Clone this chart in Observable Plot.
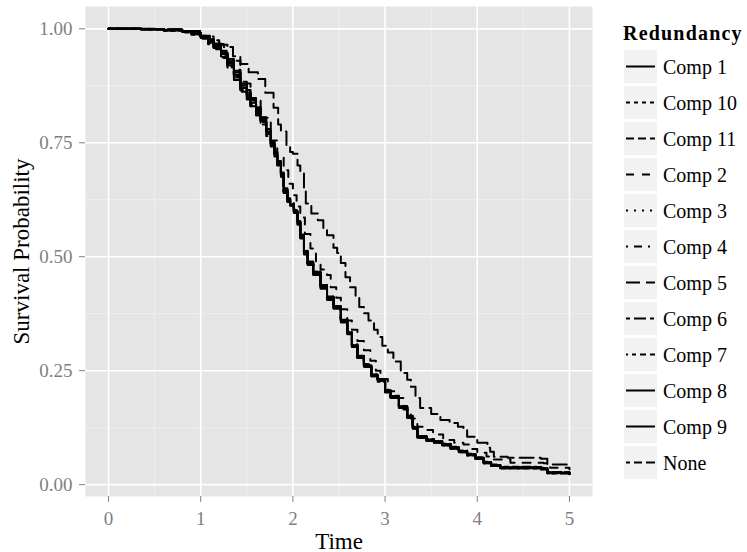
<!DOCTYPE html>
<html><head><meta charset="utf-8">
<script src="https://cdn.jsdelivr.net/npm/d3@7"></script>
<script src="https://cdn.jsdelivr.net/npm/@observablehq/plot@0.6"></script>
<style>
body{margin:0;background:#fff;}
#wrap{position:relative;width:747px;height:552px;font-family:"Liberation Serif",serif;overflow:hidden;}
#chart{position:absolute;left:0;top:0;}
#legend{position:absolute;left:0;top:0;}
.ltitle{position:absolute;left:623px;top:22px;font-weight:bold;font-size:20px;letter-spacing:1.2px;color:#000;line-height:22px;white-space:nowrap;}
.lrow{position:absolute;left:624px;height:33px;}
.lrow svg{position:absolute;left:0;top:0;}
.lrow span{position:absolute;left:39px;top:6px;font-size:20px;line-height:22px;white-space:nowrap;color:#000;}
</style></head>
<body><div id="wrap"><div id="chart"></div><div id="legend"></div></div>
<script>
// ---- data ----
const seriesNames = ["Comp 1","Comp 10","Comp 11","Comp 2","Comp 3","Comp 4","Comp 5","Comp 6","Comp 7","Comp 8","Comp 9","None"];
const dashPatterns = ["", "2 2", "4 2", "4 4", "1 3", "1 3 4 3", "7 3", "2 2 6 2", "1 2 2 2 3 2 4 2", "15 2 8 2", "15 4 4 4 8 4 4 4", "2 2 4 2 8 2 15 2"];
const xMajor = [0, 1, 2, 3, 4, 5];
const xMinor = [0.5, 1.5, 2.5, 3.5, 4.5];
const yMajor = [0, 0.25, 0.5, 0.75, 1];
const yMinor = [0.125, 0.375, 0.625, 0.875];

// shared time grid for the tightly grouped curves
const timeCluster = [0, 0.35, 0.6, 0.8, 0.9, 1.0, 1.08, 1.14, 1.22, 1.29,
  1.36, 1.43, 1.5, 1.54, 1.6, 1.65, 1.71, 1.76, 1.8, 1.83,
  1.87, 1.9, 1.94, 1.97, 2.01, 2.05, 2.08, 2.12, 2.16, 2.22,
  2.3, 2.37, 2.44, 2.52, 2.59, 2.64, 2.7, 2.77, 2.85, 2.92,
  3.0, 3.06, 3.15, 3.24, 3.3, 3.35, 3.45, 3.53, 3.62, 3.71,
  3.8, 3.89, 3.98, 4.07, 4.15, 4.25, 4.69, 4.76, 5.0];

const survComp1 = [1.0, 0.999, 0.997, 0.994, 0.99, 0.982, 0.972, 0.963, 0.945, 0.925,
  0.9, 0.872, 0.855, 0.838, 0.82, 0.8, 0.775, 0.748, 0.728, 0.706,
  0.68, 0.645, 0.625, 0.615, 0.6, 0.575, 0.545, 0.51, 0.486, 0.465,
  0.435, 0.41, 0.39, 0.36, 0.333, 0.305, 0.28, 0.262, 0.24, 0.23,
  0.205, 0.193, 0.17, 0.149, 0.125, 0.105, 0.098, 0.094, 0.088, 0.081,
  0.073, 0.066, 0.058, 0.048, 0.042, 0.037, 0.035, 0.026, 0.024];
const survComp8 = [1.0, 0.999, 0.997, 0.993, 0.988, 0.98, 0.97, 0.958, 0.938, 0.915,
  0.888, 0.862, 0.845, 0.83, 0.81, 0.79, 0.765, 0.742, 0.72, 0.7,
  0.672, 0.64, 0.622, 0.612, 0.598, 0.572, 0.54, 0.505, 0.482, 0.46,
  0.43, 0.405, 0.386, 0.356, 0.33, 0.302, 0.278, 0.258, 0.238, 0.226,
  0.202, 0.19, 0.168, 0.147, 0.123, 0.103, 0.096, 0.092, 0.086, 0.079,
  0.071, 0.064, 0.056, 0.047, 0.041, 0.036, 0.034, 0.025, 0.023];
const survComp9 = [1.0, 0.999, 0.998, 0.995, 0.991, 0.984, 0.976, 0.967, 0.952, 0.934,
  0.91, 0.884, 0.866, 0.848, 0.828, 0.806, 0.78, 0.752, 0.73, 0.708,
  0.682, 0.648, 0.628, 0.617, 0.602, 0.578, 0.548, 0.512, 0.489, 0.468,
  0.438, 0.413, 0.392, 0.362, 0.336, 0.308, 0.283, 0.264, 0.242, 0.232,
  0.207, 0.195, 0.172, 0.151, 0.127, 0.107, 0.1, 0.095, 0.089, 0.082,
  0.074, 0.067, 0.059, 0.049, 0.043, 0.038, 0.036, 0.027, 0.025];
const survComp10 = [1.0, 0.999, 0.996, 0.992, 0.987, 0.978, 0.966, 0.955, 0.936, 0.918,
  0.895, 0.87, 0.85, 0.83, 0.812, 0.795, 0.77, 0.744, 0.725, 0.703,
  0.676, 0.642, 0.62, 0.612, 0.596, 0.57, 0.542, 0.508, 0.484, 0.462,
  0.432, 0.408, 0.388, 0.358, 0.331, 0.303, 0.279, 0.26, 0.239, 0.228,
  0.204, 0.191, 0.169, 0.148, 0.124, 0.104, 0.097, 0.093, 0.087, 0.08,
  0.072, 0.065, 0.057, 0.048, 0.042, 0.037, 0.035, 0.026, 0.024];
const survComp11 = [1.0, 0.999, 0.998, 0.995, 0.992, 0.985, 0.977, 0.968, 0.95, 0.93,
  0.905, 0.878, 0.86, 0.843, 0.824, 0.802, 0.778, 0.75, 0.73, 0.71,
  0.685, 0.65, 0.628, 0.618, 0.603, 0.578, 0.548, 0.513, 0.489, 0.467,
  0.437, 0.411, 0.391, 0.361, 0.334, 0.306, 0.281, 0.263, 0.241, 0.231,
  0.206, 0.194, 0.171, 0.15, 0.126, 0.106, 0.099, 0.095, 0.089, 0.082,
  0.074, 0.067, 0.059, 0.049, 0.043, 0.038, 0.036, 0.027, 0.025];
const survComp3 = [1.0, 0.999, 0.997, 0.994, 0.989, 0.981, 0.97, 0.96, 0.942, 0.92,
  0.896, 0.868, 0.85, 0.835, 0.815, 0.797, 0.772, 0.745, 0.726, 0.704,
  0.678, 0.643, 0.624, 0.614, 0.599, 0.574, 0.544, 0.509, 0.485, 0.464,
  0.434, 0.409, 0.389, 0.359, 0.332, 0.304, 0.279, 0.261, 0.239, 0.229,
  0.204, 0.192, 0.169, 0.148, 0.124, 0.104, 0.097, 0.093, 0.087, 0.08,
  0.072, 0.065, 0.057, 0.047, 0.041, 0.036, 0.034, 0.025, 0.023];
const survComp4 = [1.0, 0.999, 0.997, 0.994, 0.99, 0.983, 0.974, 0.965, 0.948, 0.928,
  0.903, 0.876, 0.858, 0.84, 0.822, 0.803, 0.776, 0.75, 0.729, 0.707,
  0.681, 0.646, 0.626, 0.616, 0.601, 0.576, 0.546, 0.511, 0.487, 0.466,
  0.436, 0.411, 0.391, 0.361, 0.334, 0.306, 0.281, 0.263, 0.241, 0.231,
  0.206, 0.194, 0.171, 0.15, 0.126, 0.106, 0.099, 0.095, 0.089, 0.082,
  0.074, 0.067, 0.059, 0.049, 0.043, 0.038, 0.036, 0.027, 0.025];
const survComp6 = [1.0, 0.999, 0.997, 0.993, 0.989, 0.98, 0.969, 0.96, 0.94, 0.92,
  0.893, 0.865, 0.848, 0.832, 0.815, 0.796, 0.77, 0.744, 0.724, 0.702,
  0.676, 0.641, 0.622, 0.613, 0.598, 0.573, 0.543, 0.508, 0.484, 0.463,
  0.433, 0.408, 0.388, 0.358, 0.331, 0.303, 0.278, 0.26, 0.238, 0.228,
  0.203, 0.191, 0.168, 0.147, 0.123, 0.103, 0.096, 0.092, 0.086, 0.079,
  0.071, 0.064, 0.056, 0.047, 0.041, 0.036, 0.034, 0.025, 0.023];
const survComp7 = [1.0, 0.999, 0.998, 0.995, 0.991, 0.984, 0.975, 0.966, 0.95, 0.932,
  0.908, 0.88, 0.862, 0.845, 0.826, 0.805, 0.78, 0.752, 0.731, 0.709,
  0.683, 0.647, 0.627, 0.617, 0.602, 0.577, 0.547, 0.512, 0.488, 0.467,
  0.437, 0.412, 0.392, 0.362, 0.335, 0.307, 0.282, 0.264, 0.242, 0.232,
  0.207, 0.195, 0.172, 0.151, 0.127, 0.107, 0.1, 0.096, 0.09, 0.083,
  0.075, 0.068, 0.06, 0.05, 0.044, 0.039, 0.037, 0.028, 0.026];
const survNone = [1.0, 0.999, 0.997, 0.994, 0.99, 0.982, 0.971, 0.962, 0.944, 0.924,
  0.898, 0.87, 0.853, 0.836, 0.818, 0.798, 0.773, 0.747, 0.727, 0.705,
  0.679, 0.644, 0.624, 0.614, 0.599, 0.574, 0.544, 0.509, 0.485, 0.464,
  0.434, 0.409, 0.389, 0.359, 0.332, 0.304, 0.279, 0.261, 0.239, 0.229,
  0.204, 0.192, 0.169, 0.148, 0.124, 0.104, 0.097, 0.093, 0.087, 0.08,
  0.072, 0.065, 0.057, 0.047, 0.041, 0.036, 0.034, 0.025, 0.023];

// the two curves that separate from the group
const timeComp5 = [0, 0.5, 0.8, 1.0, 1.1, 1.2, 1.25, 1.35, 1.43, 1.52,
  1.62, 1.7, 1.79, 1.84, 1.87, 1.93, 1.97, 2.0, 2.05, 2.08,
  2.12, 2.14, 2.2, 2.27, 2.33, 2.37, 2.44, 2.48, 2.52, 2.57,
  2.62, 2.68, 2.72, 2.77, 2.82, 2.88, 2.92, 2.97, 3.03, 3.09,
  3.17, 3.24, 3.28, 3.33, 3.38, 3.5, 3.6, 3.7, 3.79, 3.85,
  3.89, 4.0, 4.11, 4.14, 4.18, 4.33, 4.69, 4.76, 5.0];
const survComp5 = [1.0, 0.999, 0.995, 0.985, 0.975, 0.967, 0.96, 0.94, 0.923, 0.905,
  0.89, 0.86, 0.827, 0.79, 0.775, 0.74, 0.73, 0.726, 0.70, 0.683,
  0.65, 0.617, 0.595, 0.58, 0.56, 0.547, 0.52, 0.508, 0.486, 0.455,
  0.433, 0.41, 0.39, 0.376, 0.36, 0.34, 0.324, 0.305, 0.29, 0.27,
  0.245, 0.23, 0.215, 0.19, 0.168, 0.155, 0.142, 0.135, 0.127, 0.12,
  0.105, 0.092, 0.081, 0.072, 0.061, 0.059, 0.057, 0.044, 0.04];
const timeComp2 = [0, 0.5, 0.8, 1.0, 1.14, 1.29, 1.43, 1.54, 1.65, 1.76,
  1.83, 1.9, 1.95, 2.0, 2.04, 2.08, 2.13, 2.19, 2.25, 2.3,
  2.37, 2.41, 2.47, 2.52, 2.59, 2.64, 2.7, 2.77, 2.84, 2.9,
  2.95, 3.03, 3.1, 3.2, 3.28, 3.35, 3.42, 3.52, 3.63, 3.75,
  3.85, 3.93, 4.0, 4.1, 4.18, 4.36, 4.72, 4.79, 5.0];
const survComp2 = [1.0, 0.999, 0.995, 0.983, 0.965, 0.93, 0.88, 0.845, 0.805, 0.755,
  0.72, 0.69, 0.66, 0.635, 0.61, 0.586, 0.55, 0.518, 0.49, 0.472,
  0.46, 0.433, 0.41, 0.385, 0.36, 0.34, 0.315, 0.295, 0.272, 0.25,
  0.232, 0.205, 0.19, 0.165, 0.145, 0.127, 0.12, 0.11, 0.098, 0.092,
  0.088, 0.078, 0.07, 0.062, 0.055, 0.048, 0.047, 0.037, 0.033];

const seriesData = {
  "Comp 1": [timeCluster, survComp1], "Comp 10": [timeCluster, survComp10],
  "Comp 11": [timeCluster, survComp11], "Comp 2": [timeComp2, survComp2],
  "Comp 3": [timeCluster, survComp3], "Comp 4": [timeCluster, survComp4],
  "Comp 5": [timeComp5, survComp5], "Comp 6": [timeCluster, survComp6],
  "Comp 7": [timeCluster, survComp7], "Comp 8": [timeCluster, survComp8],
  "Comp 9": [timeCluster, survComp9], "None": [timeCluster, survNone]
};

// ---- build ----
const U = 2.0; // dash unit
const LW = 2.0; // line width
const scaleDash = p => p ? p.split(" ").map(v => (+v * U).toFixed(1)).join(" ") : null;

const lineMarks = seriesNames.map((name, i) => {
  const [t, s] = seriesData[name];
  const n = Math.min(t.length, s.length);
  const rows = d3.range(n).map(j => ({time: t[j], surv: s[j]}));
  return Plot.line(rows, {x: "time", y: "surv", curve: "step-after", stroke: "black",
    strokeWidth: LW, strokeDasharray: scaleDash(dashPatterns[i]) || undefined});
});

const chart = Plot.plot({
  width: 602, height: 552,
  marginLeft: 85, marginRight: 10, marginTop: 6, marginBottom: 56,
  style: {fontFamily: "'Liberation Serif', serif", fontSize: "19px", color: "#7f7f7f", background: "white"},
  x: {domain: [-0.25, 5.25]},
  y: {domain: [-0.026, 1.049]},
  marks: [
    Plot.frame({fill: "#e5e5e5", stroke: null}),
    Plot.ruleX(xMinor, {stroke: "#f2f2f2", strokeWidth: 0.8}),
    Plot.ruleY(yMinor, {stroke: "#f2f2f2", strokeWidth: 0.8}),
    Plot.ruleX(xMajor, {stroke: "white", strokeWidth: 1.6}),
    Plot.ruleY(yMajor, {stroke: "white", strokeWidth: 1.6}),
    ...lineMarks,
    Plot.axisX({ticks: xMajor, tickFormat: d => String(d), tickSize: 6, tickPadding: 9, fontSize: 19, label: null}),
    Plot.axisY({ticks: yMajor, tickFormat: d3.format(".2f"), tickSize: 6, tickPadding: 7, fontSize: 19, label: null}),
    Plot.text(["Time"], {frameAnchor: "bottom", dy: 52, lineAnchor: "bottom", fill: "black", fontSize: 23}),
    Plot.text(["Survival Probability"], {frameAnchor: "left", dx: -57, rotate: -90, textAnchor: "middle", lineAnchor: "bottom", fill: "black", fontSize: 23})
  ]
});
document.getElementById("chart").appendChild(chart);

// ---- legend ----
const legend = document.getElementById("legend");
const title = document.createElement("div");
title.className = "ltitle";
title.textContent = "Redundancy";
legend.appendChild(title);
seriesNames.forEach((name, i) => {
  const row = document.createElement("div");
  row.className = "lrow";
  row.style.top = (50 + 36 * i) + "px";
  const dash = scaleDash(dashPatterns[i]);
  row.innerHTML = `<svg width="33" height="33"><rect width="33" height="33" fill="#f2f2f2"/>` +
    `<line x1="2" x2="31" y1="16.5" y2="16.5" stroke="black" stroke-width="${LW}"${dash ? ` stroke-dasharray="${dash}"` : ""}/></svg>` +
    `<span>${name}</span>`;
  legend.appendChild(row);
});
</script>
</body></html>
